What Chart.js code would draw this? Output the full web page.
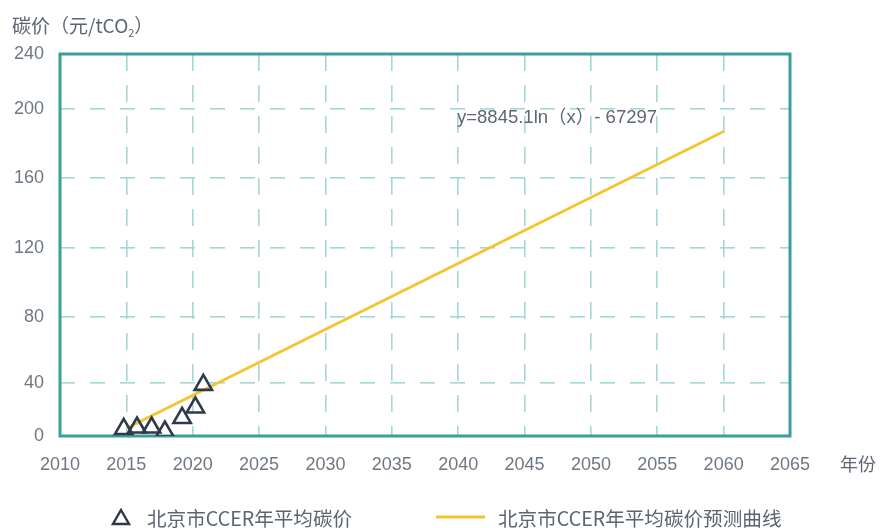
<!DOCTYPE html>
<html>
<head>
<meta charset="utf-8">
<script src="https://cdn.jsdelivr.net/npm/chart.js@4/dist/chart.umd.min.js"></script>
<style>
  body { margin: 0; background: #fff; }
  #wrap { position: relative; width: 881px; height: 528px; font-family: "Noto Sans CJK SC", "Liberation Sans", sans-serif; color: #5c6570; }
  #chart { position: absolute; left: 0; top: 0; }
  .txt { position: absolute; white-space: nowrap; line-height: 1; }
  #ytitle { left: 12px; top: 15px; font-size: 19px; }
  #ytitle sub { font-size: 11px; vertical-align: -4px; }
  #xtitle { left: 840px; top: 454px; font-size: 18px; }
  #eq { left: 457px; top: 108px; font-size: 18.5px; font-family: "Liberation Sans", "Noto Sans CJK SC", sans-serif; color: #5f6770; }
  #legend { position: absolute; left: 0; top: 506px; width: 881px; height: 24px; font-size: 19.6px; }
  .leg { position: absolute; top: 0; display: flex; align-items: center; height: 22px; }
  .leg svg { margin-right: 16px; }
</style>
</head>
<body>
<div id="wrap">
  <canvas id="chart" width="881" height="528"></canvas>
  <div class="txt" id="ytitle">碳价（元/tCO<sub>2</sub>）</div>
  <div class="txt" id="xtitle">年份</div>
  <div class="txt" id="eq">y=8845.1ln（x）- 67297</div>
  <div id="legend">
    <div class="leg" style="left:111px"><svg width="20" height="18"><polygon points="10,2 18,16 2,16" fill="none" stroke="#2d3a4b" stroke-width="2.4"/></svg><span>北京市CCER年平均碳价</span></div>
    <div class="leg" style="left:436px"><svg width="49" height="6" style="margin-right:13px"><line x1="0" y1="3" x2="49" y2="3" stroke="#f5c42c" stroke-width="3"/></svg><span>北京市CCER年平均碳价预测曲线</span></div>
  </div>
</div>
<script>
// 散点：北京市CCER年平均碳价
const obsYears = [2014.8, 2015.8, 2016.9, 2017.9, 2019.2, 2020.2, 2020.8];
const obsPrices = [5.3, 6.4, 6.4, 3.4, 13.6, 21.5, 38.5];

// 预测曲线的两端
const fitYears = [2015.05, 2060];
const fitPrices = [6, 187];

const xMin = 2010, xMax = 2065, xStep = 5;
const yTicks = [0, 40, 80, 120, 160, 200, 240];

// 原图纵轴刻度间距不均匀，用分段线性刻度还原
class PiecewiseScale extends Chart.LinearScale {
  _frac(v) {
    const k = this.options.knots;
    if (v <= yTicks[0]) return 0;
    for (let i = 1; i < yTicks.length; i++) {
      if (v <= yTicks[i]) {
        const t = (v - yTicks[i - 1]) / (yTicks[i] - yTicks[i - 1]);
        return k[i - 1] + t * (k[i] - k[i - 1]);
      }
    }
    return 1;
  }
  getPixelForValue(value) {
    if (value === null || value === undefined) return NaN;
    return this.getPixelForDecimal(this._frac(value));
  }
  getValueForPixel(pixel) {
    const d = this.getDecimalForPixel(pixel);
    const k = this.options.knots;
    for (let i = 1; i < k.length; i++) {
      if (d <= k[i]) {
        const t = (d - k[i - 1]) / (k[i] - k[i - 1]);
        return yTicks[i - 1] + t * (yTicks[i] - yTicks[i - 1]);
      }
    }
    return yTicks[yTicks.length - 1];
  }
}
PiecewiseScale.id = "piecewise";
PiecewiseScale.defaults = Chart.LinearScale.defaults;
Chart.register(PiecewiseScale);

const frame = {
  id: "frame",
  beforeDatasetsDraw(chart) {
    const a = chart.chartArea, ctx = chart.ctx;
    ctx.save();
    ctx.strokeStyle = "#3b9e99";
    ctx.lineWidth = 3;
    ctx.strokeRect(a.left, a.top, a.right - a.left, a.bottom - a.top);
    ctx.restore();
  }
};

const tickFont = { family: "Liberation Sans, Arial, sans-serif", size: 18 };

new Chart(document.getElementById("chart").getContext("2d"), {
  type: "scatter",
  data: {
    datasets: [
      {
        label: "北京市CCER年平均碳价",
        data: obsYears.map((x, i) => ({ x: x, y: obsPrices[i] })),
        pointStyle: "triangle",
        pointRadius: 10,
        pointBorderWidth: 2.6,
        pointBorderColor: "#2d3a4b",
        pointBackgroundColor: "rgba(0,0,0,0)",
        showLine: false
      },
      {
        label: "北京市CCER年平均碳价预测曲线",
        data: fitYears.map((x, i) => ({ x: x, y: fitPrices[i] })),
        showLine: true,
        borderColor: "#f5c42c",
        borderWidth: 2.6,
        pointRadius: 0,
        fill: false
      }
    ]
  },
  options: {
    responsive: false,
    animation: false,
    layout: { padding: { top: 54, right: 91, bottom: 0, left: 0 } },
    plugins: { legend: { display: false }, tooltip: { enabled: false } },
    scales: {
      x: {
        type: "linear",
        min: xMin, max: xMax,
        ticks: { stepSize: xStep, padding: 18, color: "#6e7882", font: tickFont, callback: v => String(v) },
        grid: { color: "#a3d8d5", lineWidth: 1.6, drawTicks: false },
        border: { display: false, dash: [17, 14] },
        afterFit: s => { s.height = 92; }
      },
      y: {
        type: "piecewise",
        knots: [0, 0.139, 0.3115, 0.492, 0.675, 0.856, 1],
        min: 0, max: 240,
        ticks: { stepSize: 40, padding: 16, color: "#6e7882", font: tickFont },
        grid: { color: "#a3d8d5", lineWidth: 1.6, drawTicks: false },
        border: { display: false, dash: [15, 15] },
        afterFit: s => { s.width = 60; }
      }
    }
  },
  plugins: [frame]
});
</script>
</body>
</html>
